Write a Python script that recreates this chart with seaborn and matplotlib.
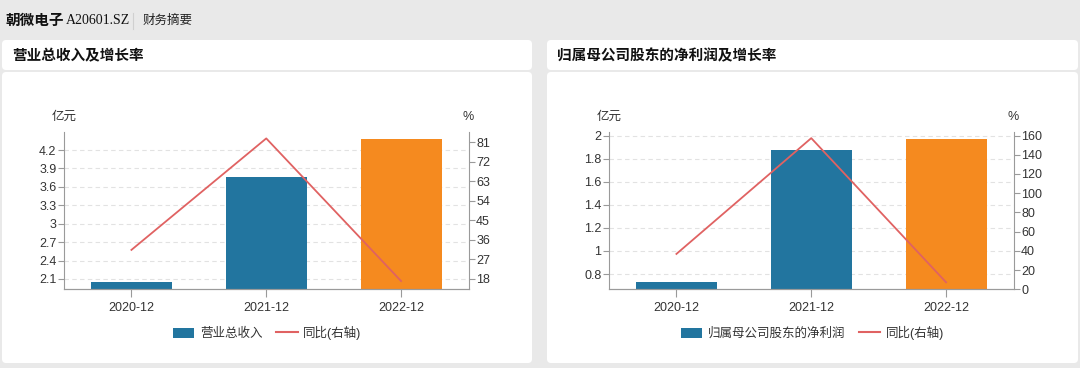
import matplotlib
matplotlib.use("Agg")
import matplotlib.pyplot as plt
import matplotlib.transforms as mtransforms
from matplotlib.patches import FancyBboxPatch, Patch
from matplotlib.lines import Line2D
import seaborn as sns
import numpy as np

plt.rcParams['font.family'] = ['Liberation Sans', 'Noto Sans CJK SC']
plt.rcParams['axes.unicode_minus'] = False

# data
periods = ['2020-12', '2021-12', '2022-12']
revenue = [2.056, 3.76, 4.38]          # 亿元
revenue_yoy = [31.3, 82.8, 16.9]       # %
profit = [0.733, 1.876, 1.974]         # 亿元
profit_yoy = [36.8, 157.3, 7.3]        # %

rev_ticks = [2.1, 2.4, 2.7, 3.0, 3.3, 3.6, 3.9, 4.2]
rev_yoy_ticks = [18, 27, 36, 45, 54, 63, 72, 81]
prof_ticks = [0.8, 1.0, 1.2, 1.4, 1.6, 1.8, 2.0]
prof_yoy_ticks = [0, 20, 40, 60, 80, 100, 120, 140, 160]

BLUE = '#22759f'
ORANGE = '#f58a1f'
RED = '#e06262'
AXIS = '#9a9a9a'
TXT = '#333333'

W, H = 1080, 368
fig = plt.figure(figsize=(W / 100, H / 100), dpi=100)
fig.patch.set_facecolor('#e9e9e9')
px = mtransforms.IdentityTransform()


def card(x0, y0, x1, y1):
    # rectangle in pixel coords, origin top-left
    p = FancyBboxPatch((x0, H - y1), x1 - x0, y1 - y0,
                       boxstyle='round,pad=0,rounding_size=4',
                       facecolor='white', edgecolor='none',
                       transform=px, zorder=-5)
    fig.patches.append(p)


def ftext(x, y, s, **kw):
    fig.text(x / W, 1 - y / H, s, **kw)


# header
ftext(5, 21, '朝微电子', fontsize=10.5, fontweight='bold', va='center', color='#111111')
ftext(66, 21, 'A20601.SZ', fontsize=10, va='center', color='#111111',
      family=['Liberation Serif', 'Noto Sans CJK SC'])
fig.add_artist(Line2D([133 / W, 133 / W], [1 - 13 / H, 1 - 29 / H],
                      color='#d0d0d0', lw=0.8))
ftext(143, 21, '财务摘要', fontsize=9, va='center', color='#222222')


def panel(x0, x1, title, bars, bar_ticks, yoy, yoy_ticks, ylim, ylim2, bar_name):
    card(x0, 40, x1, 70)
    card(x0, 72, x1, 363)
    ftext(x0 + 10, 56, title, fontsize=10.5, fontweight='bold', va='center', color='#111111')

    ax_l, ax_r = x0 + 62, x0 + 466.5
    top, bot = 131.7, 289.3
    ax = fig.add_axes([ax_l / W, 1 - bot / H, (ax_r - ax_l) / W, (bot - top) / H])
    ax.set_facecolor('none')

    sns.barplot(x=periods, y=bars, hue=periods, palette=[BLUE, BLUE, ORANGE],
                legend=False, width=0.6, saturation=1, ax=ax, zorder=2)
    ax.set_xlim(-0.5, len(periods) - 0.5)
    ax.set_ylim(*ylim)
    ax.set_yticks(bar_ticks)
    ax.set_yticklabels([f'{v:g}' for v in bar_ticks])
    ax.yaxis.grid(True, ls=(0, (4, 3)), color='#e2e2e2', lw=0.8)
    ax.set_axisbelow(True)
    ax.set_xlabel('')
    ax.set_ylabel('')

    ax2 = ax.twinx()
    sns.lineplot(x=np.arange(len(periods)), y=yoy, ax=ax2, color=RED, lw=1.3)
    ax2.set_ylim(*ylim2)
    ax2.set_yticks(yoy_ticks)
    ax2.set_yticklabels([f'{v:g}' for v in yoy_ticks])
    ax2.set_ylabel('')

    for a in (ax, ax2):
        a.spines['top'].set_visible(False)
        for s in a.spines.values():
            s.set_color(AXIS)
            s.set_linewidth(0.8)
        a.tick_params(axis='y', direction='out', length=4, width=0.8,
                      color=AXIS, labelcolor=TXT, labelsize=9, pad=1.5)
    ax2.spines['left'].set_visible(False)
    ax.spines['right'].set_visible(False)
    ax.tick_params(axis='x', direction='out', length=6, width=0.8,
                   color=AXIS, labelcolor=TXT, labelsize=9, pad=3)

    ftext(ax_l, 117, '亿元', fontsize=9, ha='center', va='center', color=TXT)
    ftext(ax_r, 117, '%', fontsize=9, ha='center', va='center', color=TXT)

    handles = [Patch(facecolor=BLUE, edgecolor='none'),
               Line2D([], [], color=RED, lw=1.5)]
    cx = (ax_l + ax_r) / 2 + 1
    fig.legend(handles, [bar_name, '同比(右轴)'], loc='center',
               bbox_to_anchor=(cx / W, 1 - 333 / H), ncol=2, frameon=False,
               fontsize=9, handlelength=1.7, handleheight=0.9,
               handletextpad=0.45, columnspacing=1.1, labelcolor=TXT)


panel(2, 532, '营业总收入及增长率', revenue, rev_ticks, revenue_yoy, rev_yoy_ticks,
      (1.932, 4.498), (13.1, 85.9), '营业总收入')
panel(547, 1078, '归属母公司股东的净利润及增长率', profit, prof_ticks, profit_yoy, prof_yoy_ticks,
      (0.667, 2.037), (0, 164), '归属母公司股东的净利润')

fig.savefig('out.png', dpi=100, facecolor=fig.get_facecolor())
